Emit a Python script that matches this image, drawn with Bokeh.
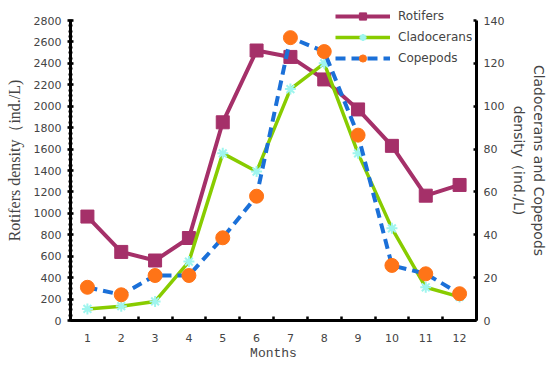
from bokeh.plotting import figure
from bokeh.models import Range1d, LinearAxis, FixedTicker, SingleIntervalTicker, Legend, LegendItem
from bokeh.embed import file_html
from bokeh.resources import INLINE

months = [1, 2, 3, 4, 5, 6, 7, 8, 9, 10, 11, 12]
rotifers = [970, 640, 560, 770, 1850, 2520, 2460, 2250, 1970, 1630, 1165, 1265]
cladocerans = [5.4, 6.7, 8.9, 27.5, 78, 69.5, 108, 120, 78, 43, 15.5, 11]
copepods = [15.5, 12, 21, 21, 38.6, 58, 132, 125.5, 86.5, 25.7, 21.8, 12.5]
left_max = 2800
right_max = 140

ROT = "#a53069"
CLA = "#88cc00"
CLA_M = "#9ff5ee"
COP = "#1b70d8"
COP_M = "#ff7417"

# frame reaches the top of the canvas so the legend can sit above the axis ends
head = 20 / 300
p = figure(width=550, height=359, output_backend="svg", toolbar_location=None,
           x_range=Range1d(0.5, 12.5), y_range=Range1d(0, left_max * (1 + head)),
           min_border_left=70, min_border_right=74, min_border_top=0, min_border_bottom=39,
           frame_width=406, frame_height=320)
p.extra_y_ranges = {"right": Range1d(0, right_max * (1 + head))}
p.xgrid.visible = False
p.ygrid.visible = False
p.outline_line_color = None

r1 = p.line(months, rotifers, color=ROT, line_width=4)
r1m = p.scatter(months, rotifers, marker="square", size=13, color=ROT)
r2 = p.line(months, cladocerans, color=CLA, line_width=3.5, y_range_name="right")
r2m = p.scatter(months, cladocerans, marker="asterisk", size=11, line_color=CLA_M, line_width=2, y_range_name="right")
r3 = p.line(months, copepods, color=COP, line_width=4, line_dash="10 6", y_range_name="right")
r3m = p.scatter(months, copepods, marker="circle", size=14, color=COP_M, y_range_name="right")

FONT = "DejaVu Sans"
ax = p.xaxis[0]
ax.ticker = FixedTicker(ticks=months, minor_ticks=[m + 0.5 for m in range(0, 13)])
ax.major_tick_line_color = None
ax.minor_tick_in = 4
ax.minor_tick_out = 0
ax.minor_tick_line_width = 2.5
ax.axis_line_width = 3
ax.axis_label = "Months"
ax.axis_label_text_font = "Liberation Mono"
ax.axis_label_text_font_style = "normal"
ax.axis_label_text_font_size = "13px"
ax.axis_label_standoff = 1
ax.major_label_text_font = FONT
ax.major_label_text_font_size = "11px"
ax.major_label_standoff = 7

ay = p.yaxis[0]
ay.bounds = (0, left_max)
ay.ticker = SingleIntervalTicker(interval=200, num_minor_ticks=4)
ay.axis_line_width = 3
ay.major_tick_in = 3
ay.major_tick_out = 3
ay.major_tick_line_width = 2.5
ay.minor_tick_in = 2
ay.minor_tick_out = 2
ay.minor_tick_line_width = 2
ay.axis_label = "Rotifers density\uff08ind./L)"
ay.axis_label_text_font = "Liberation Serif"
ay.axis_label_text_font_style = "normal"
ay.axis_label_text_font_size = "16px"
ay.axis_label_standoff = 8
ay.major_label_text_font = FONT
ay.major_label_text_font_size = "11px"
ay.major_label_standoff = 6

ar = LinearAxis(y_range_name="right")
ar.bounds = (0, right_max)
ar.ticker = FixedTicker(ticks=[0, 20, 40, 60, 80, 100, 120, 140])
ar.axis_line_width = 3
ar.major_tick_in = 3
ar.major_tick_out = 0
ar.major_tick_line_width = 2.5
ar.minor_tick_line_color = None
ar.axis_label = "Cladocerans and Copepods\ndensity\uff08ind./L)"
ar.axis_label_text_font = FONT
ar.axis_label_text_font_style = "normal"
ar.axis_label_text_font_size = "14px"
ar.axis_label_standoff = 4
ar.major_label_text_font = FONT
ar.major_label_text_font_size = "11px"
ar.major_label_standoff = 7
p.add_layout(ar, "right")

legend = Legend(items=[
    LegendItem(label="Rotifers", renderers=[r1, r1m]),
    LegendItem(label="Cladocerans", renderers=[r2, r2m]),
    LegendItem(label="Copepods", renderers=[r3, r3m]),
], location=(265, 253), background_fill_alpha=0, border_line_color=None,
    glyph_width=55, glyph_height=18, label_height=18, spacing=3, padding=2,
    label_text_font=FONT, label_text_font_size="12px", label_standoff=8, margin=0)
p.add_layout(legend)

open("out.html", "w").write(file_html(p, INLINE))
